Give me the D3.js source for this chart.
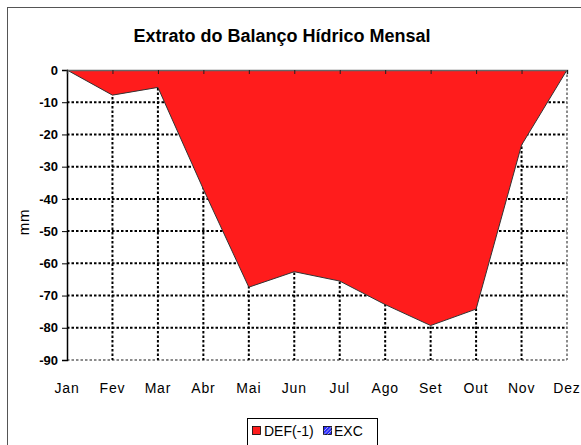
<!DOCTYPE html>
<html>
<head>
<meta charset="utf-8">
<script src="https://cdn.jsdelivr.net/npm/d3@7"></script>
<style>
  body { margin: 0; background: #fff; }
  svg { display: block; font-family: "Liberation Sans", Arial, sans-serif; }
</style>
</head>
<body>
<svg id="chart"></svg>
<script>
// monthly water balance extract
var months = ["Jan", "Fev", "Mar", "Abr", "Mai", "Jun", "Jul", "Ago", "Set", "Out", "Nov", "Dez"];
var def = [0, -7.8, -5.4, -37, -67.4, -62.6, -65.5, -72.8, -79.3, -74.2, -23.3, 0];
var yTicks = [0, -10, -20, -30, -40, -50, -60, -70, -80, -90];

var width = 581, height = 445;
var svg = d3.select("#chart").attr("width", width).attr("height", height);

// outer frame (runs past the right and bottom edges)
svg.append("rect")
    .attr("x", 7.5).attr("y", 7.5)
    .attr("width", 600).attr("height", 500)
    .attr("fill", "#fff").attr("stroke", "#555").attr("stroke-width", 1);

var x = d3.scalePoint().domain(months).range([67, 567]);
var y = d3.scaleLinear().domain([-90, 0]).range([360, 70]);

// title
svg.append("text")
    .attr("x", 282).attr("y", 42)
    .attr("text-anchor", "middle")
    .style("font-size", "18px").style("font-weight", "bold")
    .text("Extrato do Balanço Hídrico Mensal");

// grid
var grid = svg.append("g")
    .attr("stroke", "#000").attr("stroke-width", 2).attr("stroke-dasharray", "2.5,2");
grid.selectAll("line.h")
    .data(yTicks.filter(function(d){ return d < 0; }))
    .enter().append("line")
    .attr("x1", 67).attr("x2", 567)
    .attr("y1", function(d){ return y(d); })
    .attr("y2", function(d){ return y(d); })
    .attr("stroke", function(d){ return d == -90 ? "#666" : "#000"; })
    .attr("stroke-width", function(d){ return d == -90 ? 1.5 : 2; });
grid.selectAll("line.v")
    .data(months.slice(1))
    .enter().append("line")
    .attr("y1", 70).attr("y2", 360)
    .attr("x1", function(d){ return x(d); })
    .attr("x2", function(d){ return x(d); })
    .attr("stroke", function(d){ return d == "Dez" ? "#666" : "#000"; })
    .attr("stroke-width", function(d){ return d == "Dez" ? 1.5 : 2; });

// deficit area
var area = d3.area()
    .x(function(d, i){ return x(months[i]); })
    .y0(y(0))
    .y1(function(d){ return y(d); });
var line = d3.line()
    .x(function(d, i){ return x(months[i]); })
    .y(function(d){ return y(d); });

svg.append("path").datum(def)
    .attr("d", area).attr("fill", "#ff1c1c");
svg.append("path").datum(def)
    .attr("d", line).attr("fill", "none")
    .attr("stroke", "#333").attr("stroke-width", 1);

// axes
var yAxis = d3.axisLeft(y).tickValues(yTicks).tickSize(5).tickPadding(4);
var gy = svg.append("g").attr("transform", "translate(67,0)").call(yAxis);
gy.select(".domain").attr("stroke", "#000").attr("stroke-width", 1.5);
gy.selectAll("text")
    .style("font-size", "13px").style("font-weight", "bold")
    .style("font-family", "'Liberation Sans', Arial, sans-serif")
    .text(function(d){ return d; });

var xAxis = d3.axisBottom(x).tickSize(4).tickFormat("");
var gx = svg.append("g").attr("transform", "translate(0," + y(0) + ")").call(xAxis);
gx.select(".domain").attr("stroke", "#666").attr("stroke-width", 1.5);
gx.selectAll(".tick line").attr("stroke", "#222");

svg.append("g").selectAll("text")
    .data(months).enter().append("text")
    .attr("x", function(d){ return x(d); })
    .attr("y", 393)
    .attr("text-anchor", "middle")
    .style("font-size", "14px").style("letter-spacing", "0.8px")
    .text(function(d){ return d; });

// y axis label
svg.append("text")
    .attr("transform", "translate(29,222) rotate(-90)")
    .attr("text-anchor", "middle")
    .style("font-size", "15px").style("letter-spacing", "0.8px")
    .text("mm");

// legend
var lg = svg.append("g").attr("transform", "translate(247,418)");
lg.append("rect").attr("x", 0.5).attr("y", 0.5).attr("width", 130).attr("height", 30)
    .attr("fill", "#fff").attr("stroke", "#000");
lg.append("rect").attr("x", 5.5).attr("y", 8.5).attr("width", 8).attr("height", 8)
    .attr("fill", "#ff1c1c").attr("stroke", "#000").attr("stroke-width", 0.8);
lg.append("text").attr("x", 17).attr("y", 18).style("font-size", "14px").text("DEF(-1)");
lg.append("rect").attr("x", 76.5).attr("y", 8.5).attr("width", 8).attr("height", 8)
    .attr("fill", "#2828ff").attr("stroke", "#000").attr("stroke-width", 0.8);
lg.append("path")
    .attr("d", "M77,13 L81,9 M77,16.5 L84.5,9 M80.5,16.5 L84.5,12.5")
    .attr("stroke", "#ccd").attr("stroke-width", 0.8);
lg.append("text").attr("x", 87).attr("y", 18).style("font-size", "14px").text("EXC");
</script>
</body>
</html>
